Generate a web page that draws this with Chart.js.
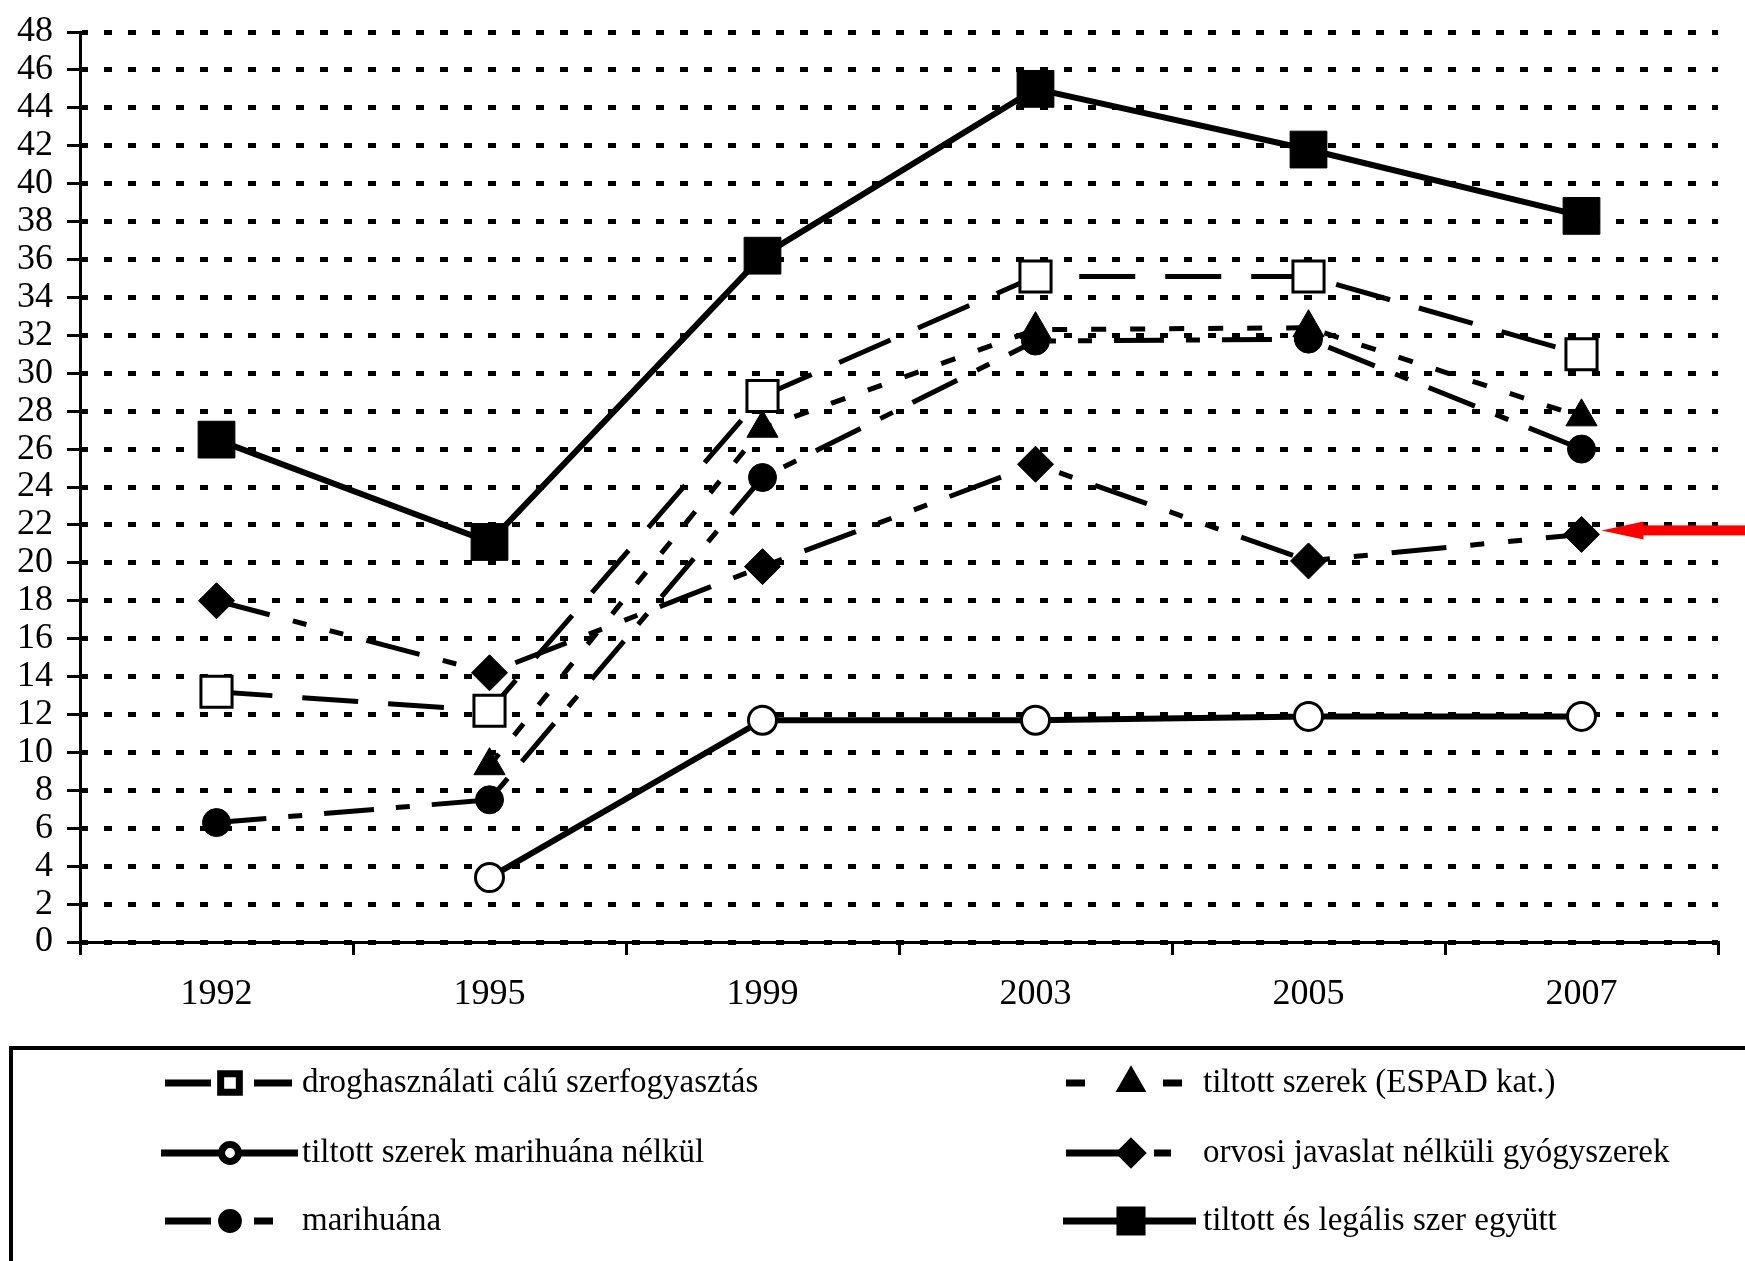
<!DOCTYPE html>
<html>
<head>
<meta charset="utf-8">
<script src="https://cdn.jsdelivr.net/npm/chart.js@4.4.0/dist/chart.umd.min.js"></script>
<style>
  html, body { margin: 0; padding: 0; background: #fff; }
  #wrap { width: 1745px; height: 1261px; }
</style>
</head>
<body>
<div id="wrap"><canvas id="grafica" width="1745" height="1261"></canvas></div>
<script>
// adatok
const evek = ['1992', '1995', '1999', '2003', '2005', '2007'];

const droghasznalati = [13.2, 12.2, 28.8, 35.1, 35.1, 31.0];
const marihuanaNelkul = [null, 3.4, 11.7, 11.7, 11.9, 11.9];
const marihuana = [6.3, 7.5, 24.5, 31.7, 31.8, 26.0];
const espad = [null, 9.3, 27.1, 32.3, 32.4, 27.7];
const orvosi = [18.0, 14.2, 19.8, 25.2, 20.1, 21.5];
const egyutt = [26.5, 21.1, 36.2, 45.0, 41.8, 38.3];

const cimkek = [
  'droghasználati cálú szerfogyasztás',
  'tiltott szerek marihuána nélkül',
  'marihuána',
  'tiltott szerek (ESPAD kat.)',
  'orvosi javaslat nélküli gyógyszerek',
  'tiltott és legális szer együtt'
];

const yMin = 0;
const yMax = 48;
const yLepes = 2;

const FONT = "'Liberation Serif', 'Times New Roman', serif";
Chart.defaults.color = '#000';

// jelmagyarázat: vonal darabok a jel elott / utan (relativ x)
const jelDarabok = [
  [[0, 46], [89, 127]],
  [[-4, 133]],
  [[0, 46], [89, 108]],
  [[0, 19], [97, 116]],
  [[0, 58], [88, 105]],
  [[-3, 130]]
];

const legendPlugin = {
  id: 'sajatLegend',
  afterDraw(chart) {
    const ctx = chart.ctx;
    ctx.save();
    // keret
    ctx.strokeStyle = '#000';
    ctx.lineWidth = 4;
    ctx.strokeRect(11, 1048, 1800, 400);

    const oszlopX = [165, 1066];
    const sorY = [1083, 1153, 1221];
    chart.data.datasets.forEach((ds, i) => {
      const bx = oszlopX[Math.floor(i / 3)];
      const y = sorY[i % 3];
      ctx.strokeStyle = '#000';
      ctx.lineWidth = 7;
      ctx.lineCap = 'butt';
      ctx.setLineDash([]);
      jelDarabok[i].forEach(d => {
        ctx.beginPath();
        ctx.moveTo(bx + d[0], y);
        ctx.lineTo(bx + d[1], y);
        ctx.stroke();
      });
      ctx.fillStyle = ds.pointBackgroundColor;
      ctx.strokeStyle = '#000';
      Chart.helpers.drawPoint(ctx, {
        pointStyle: ds.pointStyle,
        radius: ds.pointRadius * 0.6,
        borderWidth: ds.pointBorderWidth,
        rotation: 0
      }, bx + 65, y);
      ctx.fillStyle = '#000';
      ctx.font = '33px ' + FONT;
      ctx.textBaseline = 'middle';
      ctx.textAlign = 'left';
      ctx.fillText(ds.label, bx + 137, y);
    });
    ctx.restore();
  }
};

const nyilPlugin = {
  id: 'nyil',
  afterDatasetsDraw(chart) {
    const meta = chart.getDatasetMeta(4);
    const p = meta.data[meta.data.length - 1];
    const ctx = chart.ctx;
    const x = p.x + 20;
    const y = p.y - 4;
    ctx.save();
    ctx.fillStyle = 'rgb(255,0,0)';
    ctx.fillRect(x + 38, y - 5, 1745 - x, 10);
    ctx.beginPath();
    ctx.moveTo(x, y);
    ctx.lineTo(x + 42, y - 9);
    ctx.lineTo(x + 42, y + 9);
    ctx.closePath();
    ctx.fill();
    ctx.restore();
  }
};

function sorozat(label, data, stilus, radius, fill, dash, width) {
  return {
    label: label,
    data: data,
    borderColor: '#000',
    borderWidth: width,
    borderDash: dash,
    borderCapStyle: 'butt',
    pointStyle: stilus,
    pointRadius: radius,
    pointHoverRadius: radius,
    pointBackgroundColor: fill,
    pointBorderColor: '#000',
    pointBorderWidth: fill === '#fff' ? 3 : 1,
    fill: false,
    tension: 0
  };
}

new Chart(document.getElementById('grafica'), {
  type: 'line',
  data: {
    labels: evek,
    datasets: [
      sorozat(cimkek[0], droghasznalati, 'rect', 22, '#fff', [56, 30], 5),
      sorozat(cimkek[1], marihuanaNelkul, 'circle', 14, '#fff', [], 6),
      sorozat(cimkek[2], marihuana, 'circle', 14, '#000', [50, 22, 14, 22], 5),
      sorozat(cimkek[3], espad, 'triangle', 18, '#000', [15, 24], 5),
      sorozat(cimkek[4], orvosi, 'rectRot', 18, '#000', [55, 24, 14, 24, 14, 24], 5),
      sorozat(cimkek[5], egyutt, 'rect', 26, '#000', [], 6)
    ]
  },
  options: {
    responsive: false,
    animation: false,
    events: [],
    layout: { padding: { top: 28, right: 22, bottom: 229, left: 0 } },
    plugins: {
      legend: { display: false },
      tooltip: { enabled: false }
    },
    scales: {
      x: {
        offset: true,
        afterFit: s => { s.height = 90; },
        grid: {
          display: true,
          drawOnChartArea: false,
          drawTicks: true,
          offset: true,
          tickLength: 13,
          color: '#000',
          lineWidth: 3
        },
        border: { display: true, color: '#000', width: 3 },
        ticks: { font: { family: FONT, size: 36 }, color: '#000', padding: 18 }
      },
      y: {
        min: yMin,
        max: yMax,
        afterFit: s => { s.width = 80; },
        grid: {
          color: '#000',
          lineWidth: 5,
          tickLength: 13,
          tickWidth: 3,
          tickColor: '#000',
          tickBorderDash: [],
          borderDash: [8, 16]
        },
        border: { display: true, color: '#000', width: 3, dash: [8, 16], dashOffset: 2 },
        ticks: {
          stepSize: yLepes,
          autoSkip: false,
          font: { family: FONT, size: 36, lineHeight: 1 },
          color: '#000',
          padding: 14
        }
      }
    }
  },
  plugins: [nyilPlugin, legendPlugin]
});
</script>
</body>
</html>
